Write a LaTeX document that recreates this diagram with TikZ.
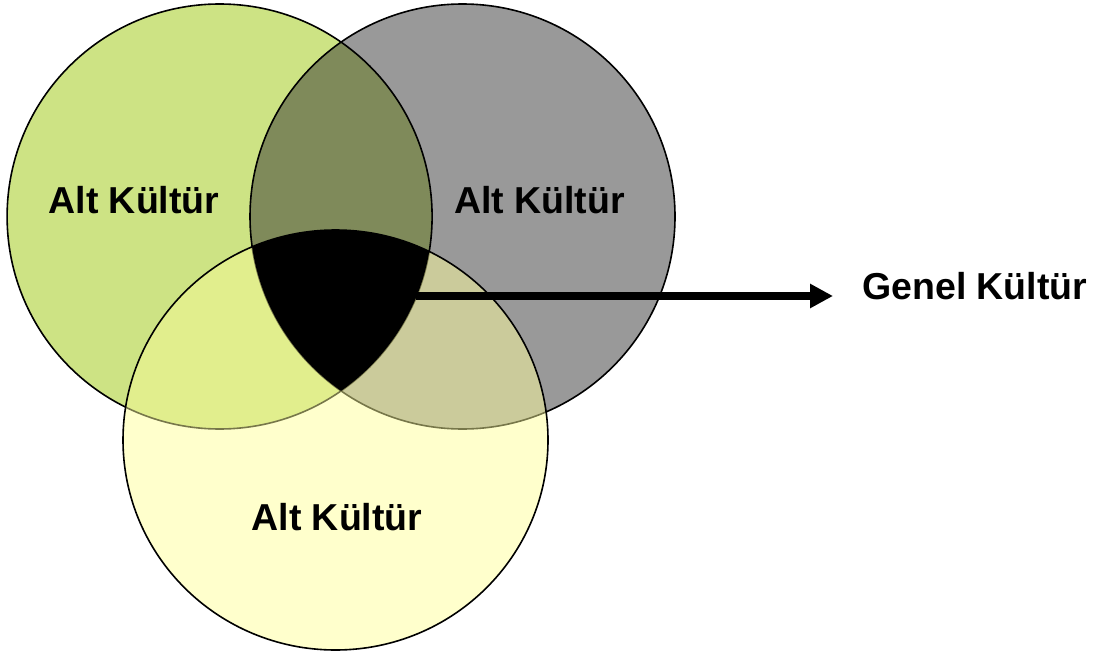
\documentclass[tikz,border=0pt]{standalone}
\usepackage{fontspec}
\setmainfont{Liberation Sans}
\usetikzlibrary{arrows.meta}
\definecolor{cgreen}{HTML}{CDE384}
\definecolor{cgray}{HTML}{999999}
\definecolor{cyellow}{HTML}{FFFFCC}
\definecolor{cgg}{HTML}{7F8A5A}
\definecolor{cgy}{HTML}{E1EE8D}
\definecolor{cry}{HTML}{CBCB9B}
\definecolor{colive}{HTML}{77774A}
\def\GreenC{(219.6,216.5) circle [radius=212.5pt]}
\def\GrayC{(462.5,216.5) circle [radius=212.5pt]}
\def\YellowC{(335.5,440) ellipse [x radius=212.5pt, y radius=210pt]}
\tikzset{
  lbl/.style={font=\bfseries\fontsize{37.5}{41}\selectfont, anchor=base, inner sep=0pt},
  rim/.style={draw=black, line width=1.6pt},
  innerrim/.style={draw=colive, line width=1.6pt},
  conn/.style={line width=7.5pt, -{Triangle[length=23pt,width=23pt]}}
}
\begin{document}
\begin{tikzpicture}[x=1pt,y=-1pt]
\useasboundingbox (0,0) rectangle (1099,655);
% base fills
\fill[cgreen] \GreenC;
\fill[cgray] \GrayC;
\begin{scope}
  \clip \GreenC;
  \fill[cgg] \GrayC;
\end{scope}
\draw[rim] \GreenC;
\draw[rim] \GrayC;
% yellow circle and its overlaps
\fill[cyellow] \YellowC;
\begin{scope}
  \clip \YellowC;
  \fill[cgy] \GreenC;
  \fill[cry] \GrayC;
  \draw[innerrim] \GreenC;
  \draw[innerrim] \GrayC;
\end{scope}
\draw[rim] \YellowC;
% core (black triple intersection)
\begin{scope}
  \clip \GreenC;
  \clip \GrayC;
  \fill[black] \YellowC;
\end{scope}
% labels
\node[lbl] (alt1) at (134,213) {Alt Kültür};
\node[lbl] (alt2) at (539.5,213) {Alt Kültür};
\node[lbl] (alt3) at (337,530) {Alt Kültür};
\node[lbl, anchor=base west] (genel) at (862,299) {Genel Kültür};
% connector
\coordinate (core) at (416,296);
\coordinate (tip) at (833,296);
\draw[conn] (core) -- (tip);
\end{tikzpicture}
\end{document}
